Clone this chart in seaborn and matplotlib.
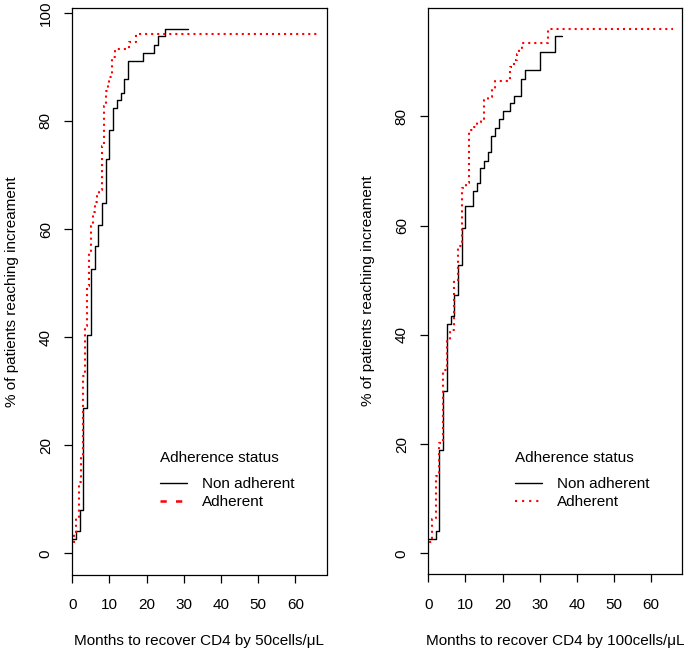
import numpy as np
import pandas as pd
import matplotlib
matplotlib.use("Agg")
import matplotlib.pyplot as plt
import seaborn as sns
from matplotlib.lines import Line2D

# ---------------- data ----------------
status_labels = ["Non adherent", "Adherent"]

# Left panel: CD4 increase by 50 cells/uL
left_non_months = [0, 1, 2, 3, 4, 5, 6, 7, 8, 9, 10, 11, 12, 13, 14, 15, 19, 22, 23, 25, 31]
left_non_pct = [2.7, 4.1, 8.1, 27.0, 40.5, 52.7, 56.8, 60.8, 64.9, 73.0, 78.4, 82.4,
                83.8, 85.1, 87.8, 91.1, 92.6, 94.1, 95.8, 97.0, 97.0]
left_adh_months = [0, 0, 0.5, 1.1, 1.7, 2.3, 2.9, 3.4, 3.9, 4.5, 5.0, 5.5, 6.0, 6.6, 7.1,
                   7.9, 8.5, 9.0, 9.5, 10.0, 10.6, 11.5, 15.2, 17.2, 66]
left_adh_pct = [0, 1.5, 3.7, 6.5, 13.2, 18.1, 32.9, 42.0, 49.5, 56.0, 60.6, 63.1, 65.0, 66.1,
                67.3, 75.3, 82.7, 85.5, 86.7, 88.2, 91.9, 93.3, 94.7, 96.0, 96.0]

# Right panel: CD4 increase by 100 cells/uL
right_non_months = [0, 2, 3, 4, 5, 6, 7, 8, 9, 10, 12, 13, 14, 15, 16, 17, 18, 19, 20,
                    22, 23, 25, 26, 30, 34, 36]
right_non_pct = [2.7, 4.1, 19.0, 29.7, 41.9, 43.4, 47.3, 52.7, 59.5, 63.6, 66.4, 67.8, 70.5,
                 71.9, 73.4, 76.4, 77.9, 79.5, 80.9, 82.4, 83.8, 86.8, 88.5, 91.8, 94.7, 94.7]
right_adh_months = [0, 0, 0.9, 2.0, 2.9, 4.0, 5.0, 5.9, 7.0, 7.9, 9.0, 10.1, 11.0, 12.0, 13.1,
                    14.1, 15.1, 16.1, 17.1, 18.0, 22.1, 23.1, 23.8, 24.5, 25.2, 32.2, 66]
right_adh_pct = [0, 2.0, 6.2, 14.1, 20.2, 33.6, 39.1, 40.9, 50.1, 56.2, 66.9, 67.8, 77.5, 78.1,
                 79.0, 79.6, 83.0, 83.6, 85.1, 86.4, 89.1, 90.3, 91.5, 92.5, 93.4, 96.0, 96.0]

x_ticks = [0, 10, 20, 30, 40, 50, 60]
left_y_ticks = [0, 20, 40, 60, 80, 100]
right_y_ticks = [0, 20, 40, 60, 80]
x_titles = ["Months to recover CD4 by 50cells/\u03bcL", "Months to recover CD4 by 100cells/\u03bcL"]
y_title = "% of patients reaching increament"
legend_title = "Adherence status"

# ---------------- style ----------------
FS = 11
sns.set_theme(style="ticks")
plt.rcParams["font.family"] = ["Liberation Sans", "DejaVu Sans"]
plt.rcParams.update({
    "font.size": FS,
    "axes.edgecolor": "black",
    "axes.linewidth": 0.9,
    "xtick.color": "black",
    "ytick.color": "black",
    "xtick.major.size": 6.0,
    "ytick.major.size": 6.0,
    "xtick.major.width": 0.9,
    "ytick.major.width": 0.9,
    "xtick.labelsize": FS,
    "ytick.labelsize": FS,
    "axes.labelsize": FS,
    "text.color": "black",
    "axes.labelcolor": "black",
})

W, H = 685, 649
fig = plt.figure(figsize=(W / 100, H / 100), dpi=100)
ax1 = fig.add_axes([72.3 / W, 1 - 574.5 / H, 254.4 / W, 566.5 / H])
ax2 = fig.add_axes([428.3 / W, 1 - 574.3 / H, 254.0 / W, 566.3 / H])


def build(nm, npct, am, apct):
    a = pd.DataFrame({"months": nm, "pct": npct, "status": status_labels[0]})
    b = pd.DataFrame({"months": am, "pct": apct, "status": status_labels[1]})
    return pd.concat([a, b], ignore_index=True)


panels = [
    (ax1, build(left_non_months, left_non_pct, left_adh_months, left_adh_pct),
     left_y_ticks, (-3.89, 100.9), x_titles[0], (2.5, 3.7), 1.8, 160),
    (ax2, build(right_non_months, right_non_pct, right_adh_months, right_adh_pct),
     right_y_ticks, (-3.84, 99.84), x_titles[1], (1, 2.4), 1.5, 515),
]

for ax, df, yt, ylim, xt, leg_dash, leg_lw, leg_x in panels:
    sns.lineplot(data=df, x="months", y="pct", hue="status", style="status", size="status",
                 hue_order=status_labels, style_order=status_labels, size_order=status_labels,
                 palette={status_labels[0]: "black", status_labels[1]: "red"},
                 dashes={status_labels[0]: "", status_labels[1]: (1, 1.9)},
                 sizes={status_labels[0]: 1.0, status_labels[1]: 1.5},
                 estimator=None, sort=False, drawstyle="steps-post", legend=False, ax=ax)
    ax.set_xlim(0, 68.4)
    ax.set_ylim(*ylim)
    ax.set_xticks(x_ticks)
    ax.set_xticklabels([str(v) for v in x_ticks])
    ax.set_yticks(yt)
    ax.set_yticklabels([str(v) for v in yt], rotation=90, va="center")
    ax.tick_params(axis="x", pad=11)
    ax.tick_params(axis="y", pad=8)
    for s in ax.spines.values():
        s.set_visible(True)
        s.set_color("black")
    ax.set_xlabel(xt)
    ax.set_ylabel(y_title)
    ax.xaxis.set_label_coords(0.5, -0.105)
    ax.yaxis.set_label_coords(-0.21, 0.5)

    handles = [Line2D([], [], color="black", lw=1.0),
               Line2D([], [], color="red", lw=leg_lw, dashes=leg_dash)]
    leg = ax.legend(handles, status_labels, title=legend_title, loc="upper left",
                    bbox_to_anchor=(leg_x / W, 1 - 451 / H), bbox_transform=fig.transFigure,
                    frameon=False, borderpad=0, borderaxespad=0, handlelength=1.75,
                    handletextpad=1.0, labelspacing=0.22, alignment="left",
                    fontsize=FS, title_fontsize=FS)
    leg._legend_box.sep = 9

fig.savefig("out.png", dpi=100)
